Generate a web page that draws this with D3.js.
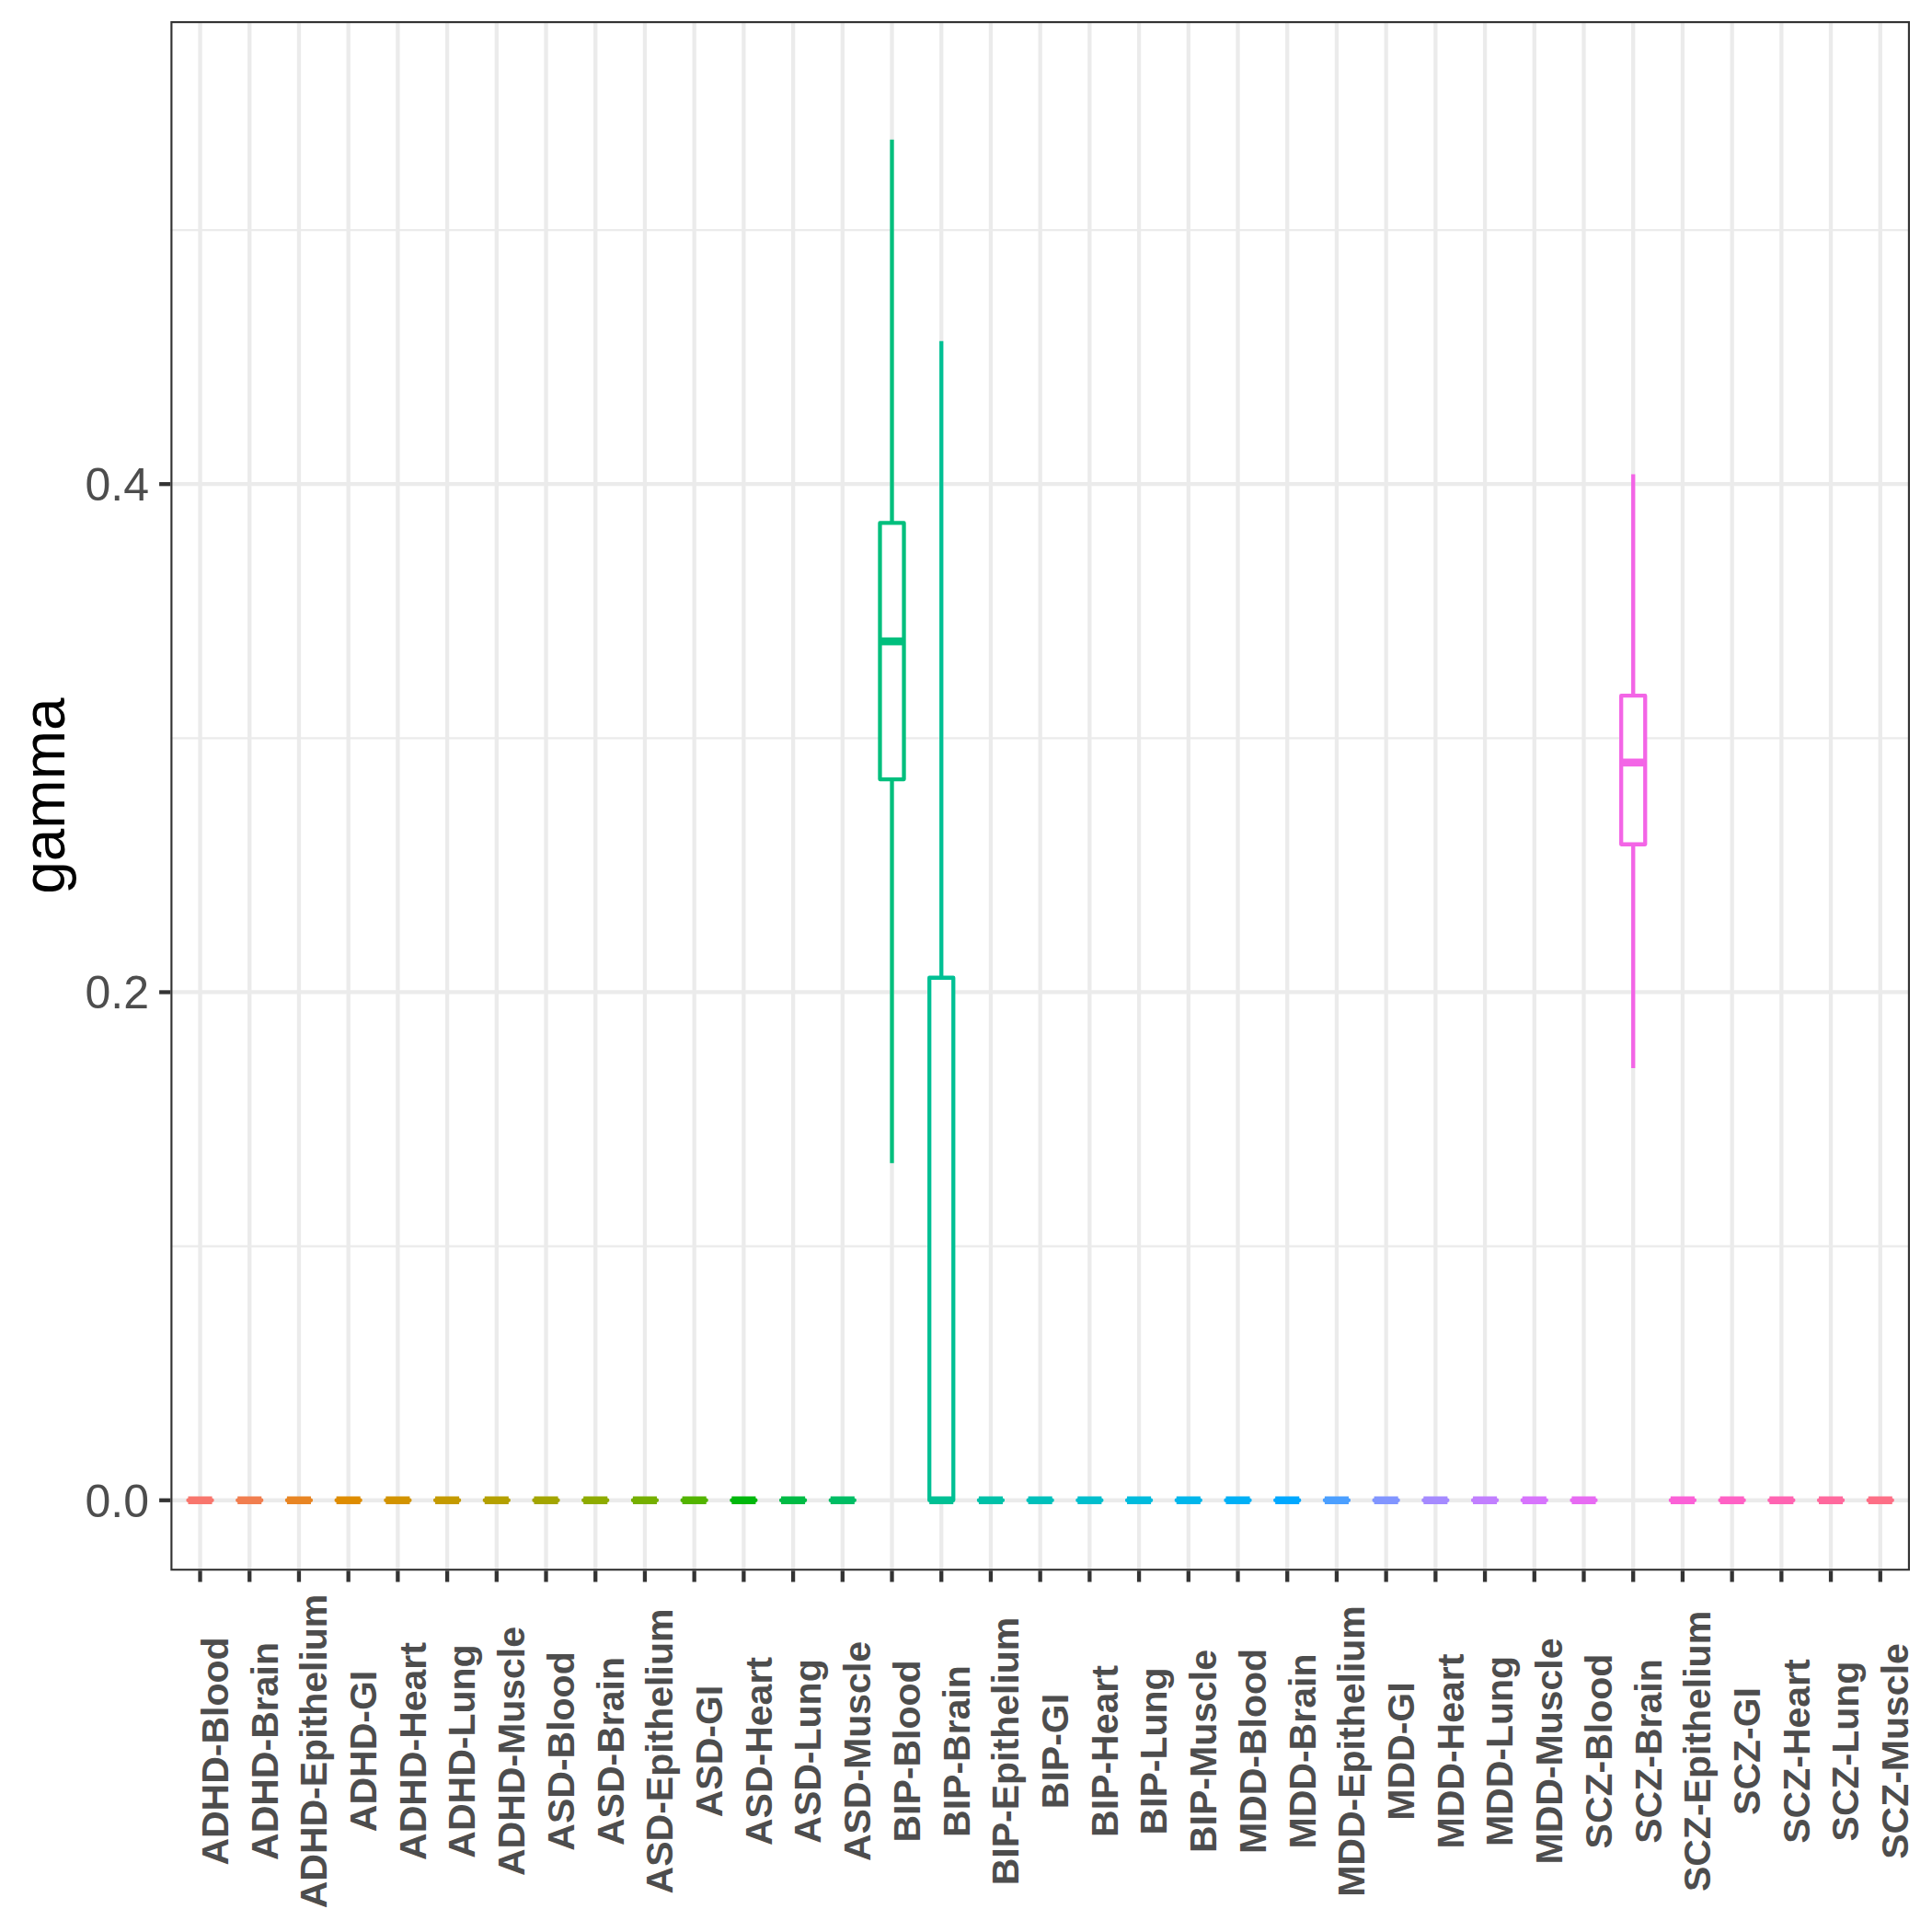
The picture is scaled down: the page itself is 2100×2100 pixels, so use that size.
<!DOCTYPE html>
<html>
<head>
<meta charset="utf-8">
<script src="https://cdn.jsdelivr.net/npm/d3@7"></script>
<style>
  html, body { margin: 0; padding: 0; background: #ffffff; }
  svg { display: block; }
</style>
</head>
<body>
<div id="chart"></div>
<script>
// ---------------- data ----------------
const categories = [
  "ADHD-Blood","ADHD-Brain","ADHD-Epithelium","ADHD-GI","ADHD-Heart","ADHD-Lung","ADHD-Muscle",
  "ASD-Blood","ASD-Brain","ASD-Epithelium","ASD-GI","ASD-Heart","ASD-Lung","ASD-Muscle",
  "BIP-Blood","BIP-Brain","BIP-Epithelium","BIP-GI","BIP-Heart","BIP-Lung","BIP-Muscle",
  "MDD-Blood","MDD-Brain","MDD-Epithelium","MDD-GI","MDD-Heart","MDD-Lung","MDD-Muscle",
  "SCZ-Blood","SCZ-Brain","SCZ-Epithelium","SCZ-GI","SCZ-Heart","SCZ-Lung","SCZ-Muscle"
];
// boxplot statistics per category (same order as categories)
const whiskerLow  = [0,0,0,0,0,0,0, 0,0,0,0,0,0,0, 0.1327,0,0,0,0,0,0, 0,0,0,0,0,0,0, 0,0.1701,0,0,0,0,0];
const q1          = [0,0,0,0,0,0,0, 0,0,0,0,0,0,0, 0.2838,0,0,0,0,0,0, 0,0,0,0,0,0,0, 0,0.2582,0,0,0,0,0];
const medianVals  = [0,0,0,0,0,0,0, 0,0,0,0,0,0,0, 0.3381,0,0,0,0,0,0, 0,0,0,0,0,0,0, 0,0.2904,0,0,0,0,0];
const q3          = [0,0,0,0,0,0,0, 0,0,0,0,0,0,0, 0.3847,0.2057,0,0,0,0,0, 0,0,0,0,0,0,0, 0,0.3167,0,0,0,0,0];
const whiskerHigh = [0,0,0,0,0,0,0, 0,0,0,0,0,0,0, 0.5356,0.4563,0,0,0,0,0, 0,0,0,0,0,0,0, 0,0.4039,0,0,0,0,0];
// full data extent incl. hidden outliers (sets the y scale, 5% expansion)
const yDataExtent = [0, 0.5545];
const yMajorTicks = [0, 0.2, 0.4];
const yMajorLabels = ["0.0", "0.2", "0.4"];
const yMinorTicks = [0.1, 0.3, 0.5];
const yTitle = "gamma";

// ---------------- ggplot hue palette (polar LUV, as R's hcl) ----------------
function hclR(h, c, l) {
  const WU = 0.1978398, WV = 0.4683363;
  const hr = h * Math.PI / 180;
  const L = l, U = c * Math.cos(hr), V = c * Math.sin(hr);
  let X = 0, Y = 0, Z = 0;
  if (!(L <= 0 && U === 0 && V === 0)) {
    Y = (L > 7.999592) ? Math.pow((L + 16) / 116, 3) : L / 903.3;
    const u = U / (13 * L) + WU;
    const v = V / (13 * L) + WV;
    X = 9.0 * Y * u / (4 * v);
    Z = -X / 3 - 5 * Y + 3 * Y / v;
  }
  const g = x => {
    const t = x > 0.00304 ? 1.055 * Math.pow(x, 1 / 2.4) - 0.055 : 12.92 * x;
    return Math.round(Math.max(0, Math.min(1, t)) * 255);
  };
  const r = g(3.240479 * X - 1.537150 * Y - 0.498535 * Z);
  const gg = g(-0.969256 * X + 1.875992 * Y + 0.041556 * Z);
  const b = g(0.055648 * X - 0.204043 * Y + 1.057311 * Z);
  return d3.rgb(r, gg, b).formatHex();
}
const n = categories.length;
const palette = d3.range(n).map(i => hclR((15 + i * 360 / n) % 360, 100, 65));
const color = d3.scaleOrdinal().domain(categories).range(palette);

// ---------------- layout ----------------
const W = 2100, H = 2100;
const panel = { left: 185.3, right: 2076, top: 23, bottom: 1707.3 };
const FONT = "'Liberation Sans', Arial, Helvetica, sans-serif";
const LW = 4.3;

const svg = d3.select("#chart").append("svg")
  .attr("width", W).attr("height", H)
  .attr("viewBox", `0 0 ${W} ${H}`);
svg.append("rect").attr("width", W).attr("height", H).attr("fill", "#ffffff");

const x = d3.scalePoint().domain(categories)
  .range([panel.left, panel.right]).padding(0.6);
const R = yDataExtent[1] - yDataExtent[0];
const y = d3.scaleLinear()
  .domain([yDataExtent[0] - 0.05 * R, yDataExtent[1] + 0.05 * R])
  .range([panel.bottom, panel.top]);
const step = x.step();
const boxW = 0.485 * step;

svg.append("defs").append("clipPath").attr("id", "pclip")
  .append("rect")
  .attr("x", panel.left).attr("y", panel.top)
  .attr("width", panel.right - panel.left)
  .attr("height", panel.bottom - panel.top);

const pg = svg.append("g").attr("clip-path", "url(#pclip)");

// minor horizontal grid
pg.append("g").selectAll("line").data(yMinorTicks).join("line")
  .attr("x1", panel.left).attr("x2", panel.right)
  .attr("y1", d => y(d)).attr("y2", d => y(d))
  .attr("stroke", "#EBEBEB").attr("stroke-width", LW / 2);
// major horizontal grid
pg.append("g").selectAll("line").data(yMajorTicks).join("line")
  .attr("x1", panel.left).attr("x2", panel.right)
  .attr("y1", d => y(d)).attr("y2", d => y(d))
  .attr("stroke", "#EBEBEB").attr("stroke-width", LW);
// vertical grid
pg.append("g").selectAll("line").data(categories).join("line")
  .attr("x1", d => x(d)).attr("x2", d => x(d))
  .attr("y1", panel.top).attr("y2", panel.bottom)
  .attr("stroke", "#EBEBEB").attr("stroke-width", LW);

// boxplots
const rows = categories.map((c, i) => ({
  cat: c, lo: whiskerLow[i], q1: q1[i], med: medianVals[i], q3: q3[i], hi: whiskerHigh[i]
}));
const bg = pg.append("g").selectAll("g").data(rows).join("g");
bg.append("line") // upper whisker
  .attr("x1", d => x(d.cat)).attr("x2", d => x(d.cat))
  .attr("y1", d => y(d.q3)).attr("y2", d => y(d.hi))
  .attr("stroke", d => color(d.cat)).attr("stroke-width", LW);
bg.append("line") // lower whisker
  .attr("x1", d => x(d.cat)).attr("x2", d => x(d.cat))
  .attr("y1", d => y(d.q1)).attr("y2", d => y(d.lo))
  .attr("stroke", d => color(d.cat)).attr("stroke-width", LW);
bg.append("path") // box
  .attr("d", d => {
    const x0 = x(d.cat) - boxW / 2, x1 = x(d.cat) + boxW / 2;
    const yt = y(d.q3), yb = y(d.q1);
    return `M${x0},${yb}L${x1},${yb}L${x1},${yt}L${x0},${yt}Z`;
  })
  .attr("fill", "#ffffff")
  .attr("stroke", d => color(d.cat)).attr("stroke-width", LW)
  .attr("stroke-linejoin", "round");
bg.append("line") // median
  .attr("x1", d => x(d.cat) - boxW / 2).attr("x2", d => x(d.cat) + boxW / 2)
  .attr("y1", d => y(d.med)).attr("y2", d => y(d.med))
  .attr("stroke", d => color(d.cat)).attr("stroke-width", LW * 2)
  .attr("stroke-linecap", "butt");

// panel border (clipped at the panel edge like ggplot)
pg.append("rect")
  .attr("x", panel.left).attr("y", panel.top)
  .attr("width", panel.right - panel.left)
  .attr("height", panel.bottom - panel.top)
  .attr("fill", "none").attr("stroke", "#333333").attr("stroke-width", LW);

// y axis
const yAxis = svg.append("g");
yAxis.selectAll("line").data(yMajorTicks).join("line")
  .attr("x1", panel.left - 12.2).attr("x2", panel.left)
  .attr("y1", d => y(d)).attr("y2", d => y(d))
  .attr("stroke", "#333333").attr("stroke-width", LW);
yAxis.selectAll("text").data(yMajorTicks).join("text")
  .attr("x", 162).attr("y", d => y(d)).attr("dy", "0.36em")
  .attr("text-anchor", "end")
  .attr("font-family", FONT).attr("font-size", 50).attr("fill", "#4D4D4D")
  .text((d, i) => yMajorLabels[i]);

// x axis
const xAxis = svg.append("g");
xAxis.selectAll("line").data(categories).join("line")
  .attr("x1", d => x(d)).attr("x2", d => x(d))
  .attr("y1", panel.bottom).attr("y2", panel.bottom + 12.2)
  .attr("stroke", "#333333").attr("stroke-width", LW);
xAxis.selectAll("text").data(categories).join("text")
  .attr("transform", d => `translate(${x(d)},1903.5) rotate(-90)`)
  .attr("dy", "0.74em")
  .attr("text-anchor", "middle")
  .attr("font-family", FONT).attr("font-size", 41).attr("font-weight", "bold")
  .attr("fill", "#4D4D4D")
  .text(d => d);

// y title
svg.append("text")
  .attr("transform", `translate(70,${(panel.top + panel.bottom) / 2}) rotate(-90)`)
  .attr("text-anchor", "middle")
  .attr("font-family", FONT).attr("font-size", 64).attr("fill", "#000000")
  .text(yTitle);
</script>
</body>
</html>
